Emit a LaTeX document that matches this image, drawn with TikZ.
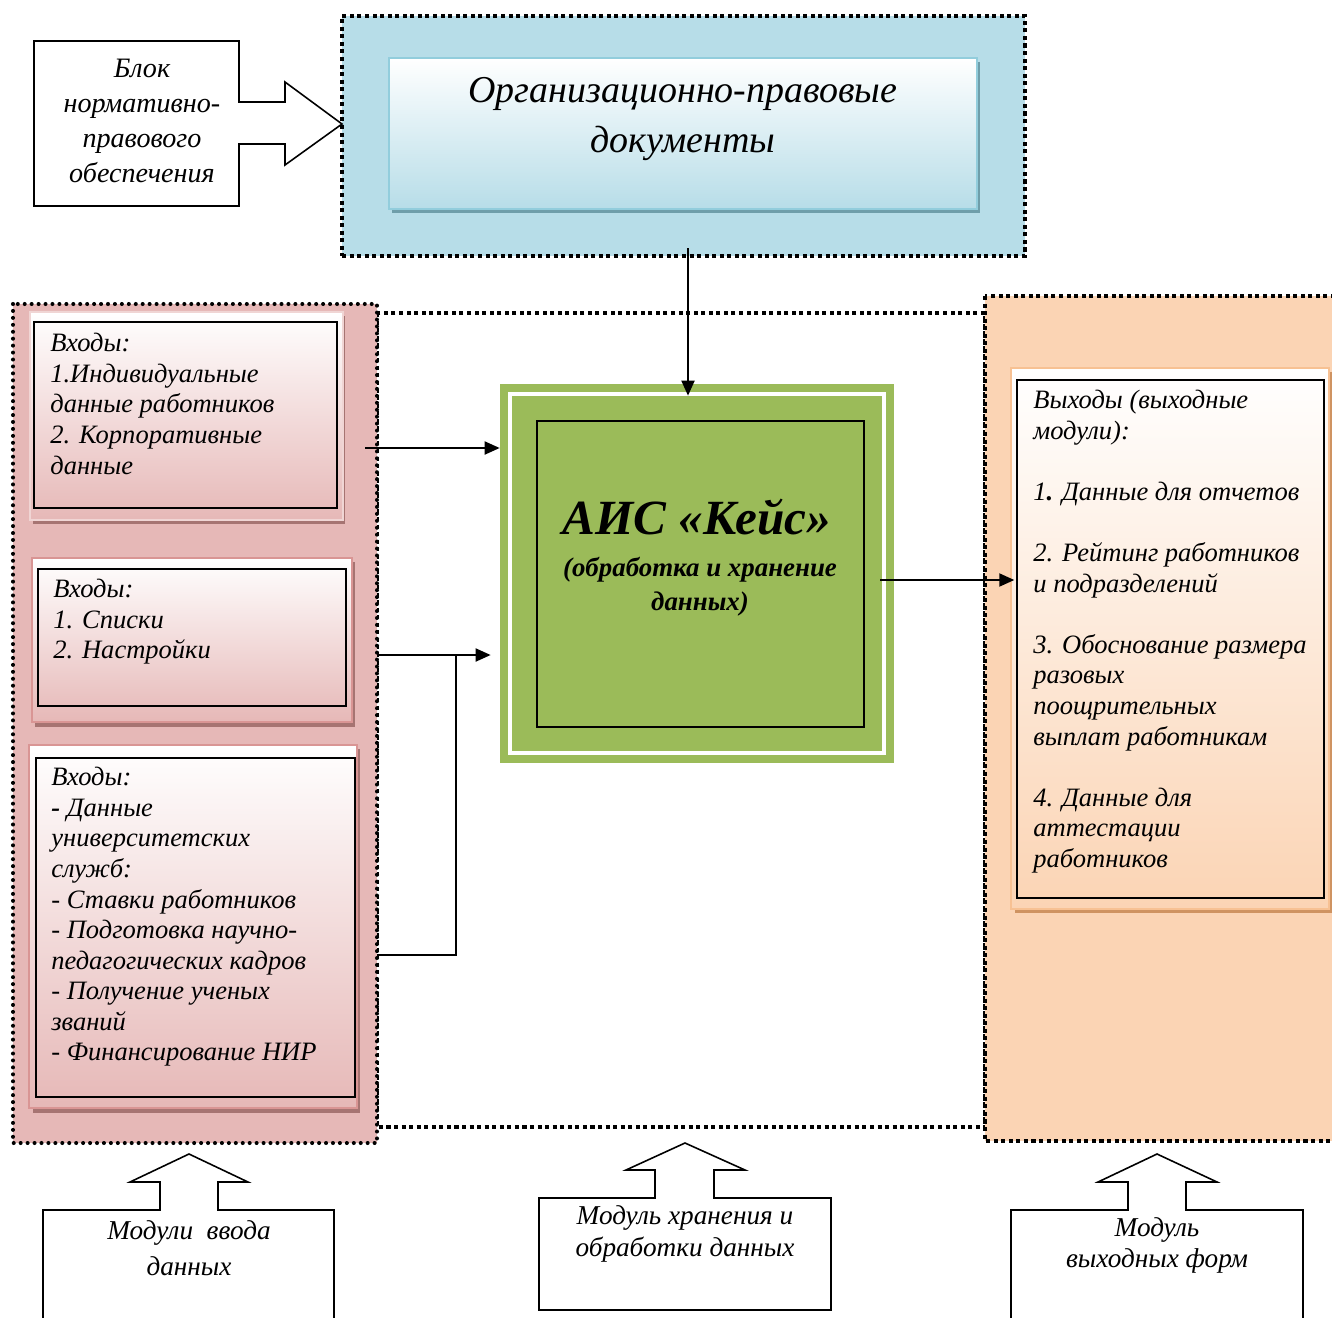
\documentclass[tikz,border=0pt]{standalone}
\usepackage{fontspec}
\setmainfont{Liberation Serif}
\usetikzlibrary{fit,arrows.meta}

\definecolor{bluepanel}{HTML}{B7DDE8}
\definecolor{blueline}{HTML}{92CDDC}
\definecolor{blueshade}{HTML}{6F9EAA}
\definecolor{pinkpanel}{HTML}{E6B8B7}
\definecolor{pinkline}{HTML}{D99594}
\definecolor{pinkshade}{HTML}{A67472}
\definecolor{greenbox}{HTML}{9BBB59}
\definecolor{orangepanel}{HTML}{FBD4B4}
\definecolor{orangeline}{HTML}{F7C193}
\definecolor{orangeshade}{HTML}{CF9361}

\tikzset{
    dotpanel/.style={line width=2.3pt, dash pattern=on 0pt off 3.95pt, line cap=round},
    sqpanel/.style={line width=2.4pt, dash pattern=on 2.3pt off 2pt},
    frame/.style={inner sep=0pt, line width=0.8pt},
    blackbox/.style={draw, line width=1.1pt, inner sep=0pt},
    txt/.style={inner sep=0pt, align=left, font=\fontsize{15.1}{17.4}\selectfont\itshape},
    arr/.style={line width=1.1pt, -{Triangle[length=0.3cm,width=0.26cm]}},
    callout/.style={draw, line width=0.9pt, fill=white},
    calltext/.style={inner sep=0pt, align=center, font=\fontsize{15.5}{#1}\selectfont\itshape}
}

\begin{document}
\begin{tikzpicture}[x=0.02cm, y=-0.02cm]
    \useasboundingbox (0,0) rectangle (1332,1318);
    \clip (0,0) rectangle (1332,1318);

    \draw[sqpanel, fill=white] (377,313) rectangle (985,1127);
    \draw[dotpanel, fill=pinkpanel] (13,304) rectangle (377,1143);
    \draw[sqpanel, fill=orangepanel] (985,296) rectangle (1350,1141);
    \node[sqpanel, draw, fill=bluepanel, inner sep=0pt, fit={(342,16) (1025,256)}] (docs) {};

    \fill[blueshade] (392,62) rectangle (980,213);
    \node[frame, draw=blueline, top color=white, bottom color=bluepanel, fit={(389,58) (977,209)}] (docbox) {};
    \node[inner sep=0pt, align=center, font=\fontsize{21.6}{28}\selectfont\itshape] (doctext) at (683,119) {Организационно-правовые\\документы};

    \draw[callout] (34,41) -- (239,41) -- (239,102) -- (285,102) -- (285,82) -- (342,124) -- (285,165) -- (285,144) -- (239,144) -- (239,206) -- (34,206) -- cycle;
    \node[inner sep=0pt, align=center, font=\fontsize{16}{19.8}\selectfont\itshape] (normtext) at (142,121) {Блок\\нормативно-\\правового\\обеспечения};

    \fill[pinkshade] (33,316) rectangle (345,524);
    \node[frame, draw=pinkline!40, top color=white, bottom color=pinkpanel, fit={(30,312) (343,520)}] (in1frame) {};
    \node[blackbox, fit={(34,322) (337,508)}] (in1) {};
    \node[txt, anchor=north west] (in1text) at (50,333) {Входы:\\1.Индивидуальные\\данные работников\\2. Корпоративные\\данные};

    \fill[pinkshade] (35,562) rectangle (355,727);
    \node[frame, draw=pinkline, top color=white, bottom color=pinkpanel, fit={(32,558) (352,722)}] (in2frame) {};
    \node[blackbox, fit={(38,569) (346,706)}] (in2) {};
    \node[txt, anchor=north west] (in2text) at (53,579) {Входы:\\1. Списки\\2. Настройки};

    \fill[pinkshade] (33,749) rectangle (360,1113);
    \node[frame, draw=pinkline, top color=white, bottom color=pinkpanel, fit={(29,745) (357,1108)}] (in3frame) {};
    \node[blackbox, fit={(36,758) (355,1097)}] (in3) {};
    \node[txt, anchor=north west] (in3text) at (51,767) {Входы:\\\textbf{-} Данные\\университетских\\служб:\\- Ставки работников\\- Подготовка научно-\\педагогических кадров\\- Получение ученых\\званий\\- Финансирование НИР};

    \node[fill=greenbox, inner sep=0pt, fit={(500,384) (894,763)}] (ais) {};
    \draw[white, line width=2pt] (510,394) rectangle (884,753);
    \node[blackbox, fit={(537,421) (864,727)}] (aiscore) {};
    \node[inner sep=0pt, font=\fontsize{28}{32}\selectfont\bfseries\itshape] (aistitle) at (697,517) {АИС «Кейс»};
    \node[inner sep=0pt, align=center, font=\fontsize{15.3}{19.3}\selectfont\bfseries\itshape] (aisnote) at (700,587) {(обработка и хранение\\данных)};

    \fill[orangeshade] (1015,372) rectangle (1334,913);
    \node[frame, draw=orangeline, top color=white, bottom color=orangepanel, fit={(1011,368) (1329,909)}] (outframe) {};
    \node[blackbox, fit={(1017,380) (1324,898)}] (out) {};
    \node[txt, anchor=north west] (outtext) at (1033,390) {Выходы (выходные\\модули):\\[17.4pt]1\textbf{.} Данные для отчетов\\[17.4pt]2. Рейтинг работников\\и подразделений\\[17.4pt]3. Обоснование размера\\разовых\\поощрительных\\выплат работникам\\[17.4pt]4. Данные для\\аттестации\\работников};

    \draw[arr] ([xshift=0.09cm,yshift=0.2cm]docs.south) -- ([xshift=0.09cm,yshift=-0.24cm]docs.south |- ais.north);

    \coordinate (in1out) at (365,448);
    \draw[arr] (in1out) -- (in1out -| ais.west);

    \coordinate (in2out) at (377,655);
    \draw[arr] (in2out) -- ([xshift=-0.18cm]in2out -| ais.west);

    \coordinate (in3out) at (377,955);
    \coordinate (join) at (456,655);
    \draw[line width=1.1pt] (in3out) -| (join);

    \coordinate (aisout) at (880,580);
    \draw[arr] (aisout) -- ([xshift=0.08cm]aisout -| outframe.west);

    \draw[callout] (43,1330) -- (43,1210) -- (160,1210) -- (160,1182) -- (130,1182) -- (189,1154) -- (248,1182) -- (218,1182) -- (218,1210) -- (334,1210) -- (334,1330);
    \node[calltext=20.4pt] (inmod) at (189,1248) {Модули\ \ ввода\\данных};

    \draw[callout] (539,1310) -- (539,1198) -- (655,1198) -- (655,1170) -- (626,1170) -- (685,1143) -- (745,1170) -- (714,1170) -- (714,1198) -- (831,1198) -- (831,1310) -- cycle;
    \node[calltext=18.1pt] (storemod) at (685,1234) {Модуль хранения и\\обработки данных};

    \draw[callout] (1011,1330) -- (1011,1210) -- (1128,1210) -- (1128,1182) -- (1098,1182) -- (1157,1154) -- (1217,1182) -- (1186,1182) -- (1186,1210) -- (1303,1210) -- (1303,1330);
    \node[calltext=17.6pt] (outmod) at (1157,1245) {Модуль\\выходных форм};
\end{tikzpicture}
\end{document}
